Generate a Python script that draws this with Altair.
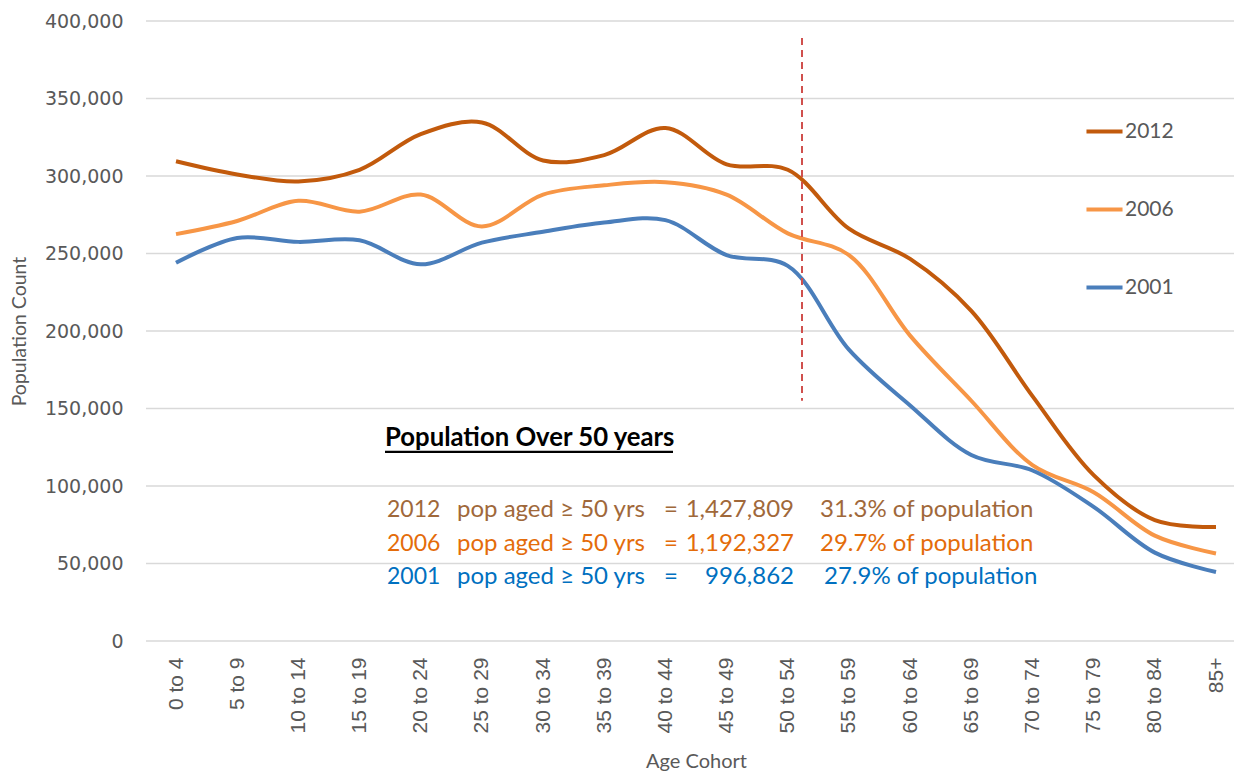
import altair as alt
import pandas as pd

cohorts = ["0 to 4", "5 to 9", "10 to 14", "15 to 19", "20 to 24", "25 to 29",
           "30 to 34", "35 to 39", "40 to 44", "45 to 49", "50 to 54", "55 to 59",
           "60 to 64", "65 to 69", "70 to 74", "75 to 79", "80 to 84", "85+"]
pop_2012 = [309500, 301000, 296500, 304000, 327000, 334500, 310000, 313500, 331000,
            307500, 304000, 266000, 246500, 213000, 158000, 107000, 78000, 73500]
pop_2006 = [262500, 271000, 284000, 277000, 288000, 267500, 288000, 294000, 296000,
            288000, 263000, 249000, 197000, 155000, 113500, 96000, 68000, 56500]
pop_2001 = [244000, 260000, 257500, 258500, 243000, 257000, 264000, 270000, 271500,
            249000, 242000, 188000, 152000, 120000, 110000, 86500, 57000, 44500]
years = ["2012", "2006", "2001"]
line_colors = ["#C25A0C", "#F79646", "#4A7EBB"]
y_ticks = [0, 50000, 100000, 150000, 200000, 250000, 300000, 350000, 400000]

ann_years = ["2012", "2006", "2001"]
ann_phrase = "pop aged \u2265 50 yrs"
ann_totals = ["1,427,809", "1,192,327", "996,862"]
ann_pcts = ["31.3% of population", "29.7% of population", "27.9% of population"]
ann_colors = ["#A0683A", "#E46C0A", "#0070C0"]
header = "Population Over 50 years"

rows = []
for yr, vals in zip(years, [pop_2012, pop_2006, pop_2001]):
    for c, v in zip(cohorts, vals):
        rows.append({"cohort": c, "year": yr, "pop": v})
df = pd.DataFrame(rows)

W, H = 1088, 620
GRAY = "#595959"

x_enc = alt.X(
    "cohort:N", sort=cohorts,
    scale=alt.Scale(type="point", range=[30, 1070], padding=0),
    axis=alt.Axis(title="Age Cohort", labelAngle=-90, labelFont="Liberation Sans",
                  labelFontSize=21, labelColor=GRAY, labelPadding=16, ticks=False,
                  domain=False, grid=False, titleFont="Lato", titleFontSize=20,
                  titleFontWeight="normal", titleColor=GRAY, titleY=120,
                  titleBaseline="middle"),
)
y_enc = alt.Y(
    "pop:Q", scale=alt.Scale(domain=[0, 400000]),
    axis=alt.Axis(values=y_ticks, format=",.0f",
                  labelFont="DejaVu Sans", labelFontSize=19, labelColor=GRAY,
                  labelPadding=23, ticks=False, domain=False, grid=False,
                  title="Population Count", titleFont="Lato",
                  titleFontSize=19.5, titleFontWeight="normal", titleColor=GRAY,
                  titleX=-127, titleY=310, titleBaseline="middle", titleAlign="center"),
)

grid = alt.Chart(pd.DataFrame({"v": y_ticks})).mark_rule(
    color="#D9D9D9", strokeWidth=1.3
).encode(y=alt.Y("v:Q"), x=alt.value(0), x2=alt.value(W))

lines = alt.Chart(df).mark_line(interpolate="catmull-rom", strokeWidth=4).encode(
    x=x_enc, y=y_enc,
    color=alt.Color("year:N", scale=alt.Scale(domain=years, range=line_colors),
                    legend=alt.Legend(orient="none", legendX=938, legendY=90, title=None,
                                      symbolType="stroke", symbolSize=1300,
                                      symbolStrokeWidth=4, labelFont="Lato",
                                      labelFontSize=21, labelColor=GRAY, rowPadding=47,
                                      labelOffset=0, padding=0)),
)

dash = alt.Chart(pd.DataFrame({"k": [0]})).mark_rule(
    color="#D0504D", strokeWidth=2, strokeDash=[7, 5]
).encode(x=alt.value(656), y=alt.datum(389000), y2=alt.datum(155000))


def txt(s, xpix, yval, color, align="left", bold=False, size=24):
    return alt.Chart(pd.DataFrame({"t": [s]})).mark_text(
        align=align, baseline="middle", font="Lato", fontSize=size,
        fontWeight="bold" if bold else "normal", color=color
    ).encode(x=alt.value(xpix), y=alt.datum(yval), text="t:N")


layers = [grid, lines, dash]
layers.append(txt(header, 239, 131000, "#000000", bold=True, size=25.7))
layers.append(alt.Chart(pd.DataFrame({"k": [0]})).mark_rule(color="#000000", strokeWidth=2.2).encode(
    x=alt.value(239), x2=alt.value(527), y=alt.datum(122000)))

line_y = [84500, 62600, 41300]
eq_x = [518, 518, 518]
num_x = [648, 648, 648]
pct_x = [674, 674, 678]
for i in range(3):
    c = ann_colors[i]
    layers.append(txt(ann_years[i], 241, line_y[i], c, size=23))
    layers.append(txt(ann_phrase, 311, line_y[i], c))
    layers.append(txt("=", eq_x[i], line_y[i], c))
    layers.append(txt(ann_totals[i], num_x[i], line_y[i], c, align="right"))
    layers.append(txt(ann_pcts[i], pct_x[i], line_y[i], c))

chart = alt.layer(*layers).properties(
    width=W, height=H,
    autosize=alt.AutoSizeParams(type="none"),
    padding={"left": 138, "top": 13, "right": 0, "bottom": 133},
).configure_view(stroke=None)

chart.save("out.html", embed_options={"renderer": "svg", "actions": False})
